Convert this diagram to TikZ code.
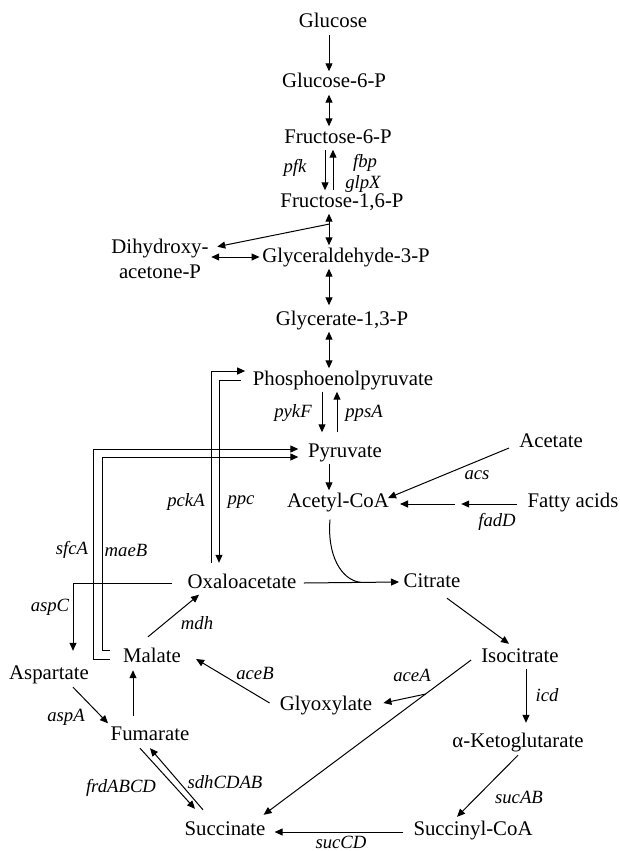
\documentclass[tikz,border=0pt]{standalone}
\usepackage{fontspec}
\setmainfont{Liberation Serif}
\usetikzlibrary{arrows.meta,positioning,calc}

\begin{document}
\begin{tikzpicture}[x=1pt, y=-1pt,
  met/.style={font=\fontsize{20.8}{25}\selectfont, inner sep=2.5pt, anchor=base,
              text height=14pt, text depth=4pt},
  met2/.style={font=\fontsize{20.8}{25}\selectfont, inner sep=2.5pt, align=center},
  enz/.style={font=\fontsize{18.7}{22}\selectfont\itshape, inner sep=0pt},
  ln/.style={line width=1pt},
  arr/.style={ln, -{Triangle[length=8pt,width=7pt]}},
  dbl/.style={ln, {Triangle[length=8pt,width=7pt]}-{Triangle[length=8pt,width=7pt]}}
]
\useasboundingbox (0,0) rectangle (620,851);

% glycolysis column
\coordinate (ax) at (329,0);
\coordinate (pf) at (325,0);
\coordinate (fb) at (333,0);
\coordinate (pk) at (322,0);
\coordinate (pp) at (337,0);

\node[met] (glc)   at (333,28)  {Glucose};
\node[met] (g6p)   at (334,88)  {Glucose-6-P};
\node[met] (f6p)   at (338,143) {Fructose-6-P};
\node[met] (f16p)  at (342,207) {Fructose-1,6-P};
\node[met] (g3p)   at (346,262) {Glyceraldehyde-3-P};
\node[met2] (dhap) at (160,258.5) {Dihydroxy-\\acetone-P};
\node[met] (gly13) at (342,325) {Glycerate-1,3-P};
\node[met] (pep)   at (343,385) {Phosphoenolpyruvate};
\node[met] (pyr)   at (345,457) {Pyruvate};
\node[met] (acoa)  at (338,507) {Acetyl-CoA};
\node[met] (acet)  at (551,447) {Acetate};
\node[met] (fat)   at (573,507) {Fatty acids};

% TCA and glyoxylate shunt
\node[met] (oaa)   at (242,588) {Oxaloacetate};
\node[met] (cit)   at (432,587) {Citrate};
\node[met] (iso)   at (520,662) {Isocitrate};
\node[met] (mal)   at (152,662) {Malate};
\node[met] (asp)   at (49,679)  {Aspartate};
\node[met] (glx)   at (326,710) {Glyoxylate};
\node[met] (fum)   at (150,740) {Fumarate};
\node[met] (akg)   at (518,747) {α-Ketoglutarate};
\node[met] (suc)   at (225,835) {Succinate};
\node[met] (sca)   at (473,835) {Succinyl-CoA};

\draw[arr] (glc.south -| ax) -- (g6p.north -| ax);
\draw[dbl] (g6p.south -| ax) -- (f6p.north -| ax);
\draw[arr] (f6p.south -| pf) -- (f16p.north -| pf);
\draw[arr] (f16p.north -| fb) -- (f6p.south -| fb);
\draw[dbl] (f16p.south -| ax) -- coordinate[pos=0.33] (fbr) (g3p.north -| ax);
\draw[arr] (fbr) -- ([shift={(6,10.7)}]dhap.north east);
\draw[dbl] (dhap.east |- g3p.west) -- (g3p.west);
\draw[dbl] (g3p.south -| ax) -- ([yshift=3pt]gly13.north -| ax);
\draw[dbl] (gly13.south -| ax) -- (pep.north -| ax);
\draw[arr, shorten >=8pt] (pep.south -| pk) -- (pyr.north -| pk);
\draw[arr, shorten <=8pt] (pyr.north -| pp) -- (pep.south -| pp);
\draw[arr] (pyr.south -| ax) -- (acoa.north -| ax);
\draw[arr] ([shift={(-7.5,6)}]acet.west) -- ([shift={(-3.5,-4)}]acoa.east);
\coordinate (fmid) at ($(acoa.east)!0.5!(fat.west)$);
\draw[arr] ([shift={(-7.5,2)}]fat.west) -- ([shift={(3,2)}]fmid);
\draw[arr] ([shift={(-3,2)}]fmid) -- ([shift={(8.5,2)}]acoa.east);

% anaplerotic loops
\draw[arr] ([shift={(-31,-8.5)}]oaa.north) |- ([shift={(-5,-9)}]pep.west);
\draw[arr] ([xshift=-9pt]pep.west) -| ([shift={(-23,-8.5)}]oaa.north);
\draw[arr] ([shift={(-10,2)}]mal.west) -- ++(-17,0) |- ([shift={(-7,-3)}]pyr.west);
\draw[arr] ([shift={(-10,-7)}]mal.west) -- ++(-8,0) |- ([shift={(-7,5)}]pyr.west);
\draw[arr] ([xshift=-13pt]oaa.west) -| ([shift={(24,-11.5)}]asp.north);

% cycle
\draw[arr] ([xshift=5pt]oaa.east) -- coordinate[pos=0.6] (cjoin) ([xshift=-2pt]cit.west);
\draw[ln] ([shift={(-8,6)}]acoa.south) .. controls +(-3,35) and +(-20,-2) .. (cjoin);
\draw[arr] ([shift={(15,4.5)}]cit.south) -- ([shift={(-11,-1.5)}]iso.north);
\draw[arr] ([shift={(6,0.5)}]iso.south) -- ([shift={(8,-7.5)}]akg.north);
\draw[arr] ([shift={(0,1.5)}]akg.south) -- ([shift={(-16,-1.5)}]sca.north);
\draw[arr] ([shift={(-7.5,2)}]sca.west) -- ([shift={(6.5,2)}]suc.east);
\draw[arr] ([shift={(-10,1.5)}]fum.south) -- ([shift={(-30,-9.5)}]suc.north);
\draw[arr] ([shift={(-22,-8.5)}]suc.north) -- ([shift={(0,1.5)}]fum.south);
\draw[arr] ([shift={(-17,-7)}]fum.north) -- ([shift={(-19,1.5)}]mal.south);
\draw[arr] ([shift={(-4,-8.5)}]mal.north) -- ([xshift=14pt]oaa.south west);
\draw[arr] ([shift={(24,1.5)}]asp.south) -- (fum.north west);
\draw[arr] ([shift={(-7.5,-2)}]glx.west) -- ([shift={(12.5,2)}]mal.east);
\draw[arr] ([shift={(-7.5,3)}]iso.west) -- coordinate[pos=0.22] (abr) ([shift={(-4.5,-3.5)}]suc.north east);
\draw[arr] (abr) -- ([shift={(8.5,-2)}]glx.east);

% enzyme labels
\node[enz] (pfk)  at (295,168) {pfk};
\node[enz] (fbp)  at (365,163) {fbp};
\node[enz] (glpx) at (363,184) {glpX};
\node[enz] (pykf) at (293,413) {pykF};
\node[enz] (ppsa) at (364,413) {ppsA};
\node[enz] (acs)  at (477,475) {acs};
\node[enz] (fadd) at (497,522) {fadD};
\node[enz] (pcka) at (186,502) {pckA};
\node[enz] (ppc)  at (241,502) {ppc};
\node[enz] (sfca) at (72,550)  {sfcA};
\node[enz] (maeb) at (126,550) {maeB};
\node[enz] (aspc) at (50,607)  {aspC};
\node[enz] (mdh)  at (197,623) {mdh};
\node[enz] (aceb) at (255,673) {aceB};
\node[enz] (acea) at (412,675) {aceA};
\node[enz] (icd)  at (547,695) {icd};
\node[enz] (aspa) at (66,717)  {aspA};
\node[enz] (sdh)  at (225,782) {sdhCDAB};
\node[enz] (frd)  at (121,788) {frdABCD};
\node[enz] (sucab) at (519,797) {sucAB};
\node[enz] (succd) at (341,842) {sucCD};
\end{tikzpicture}
\end{document}
